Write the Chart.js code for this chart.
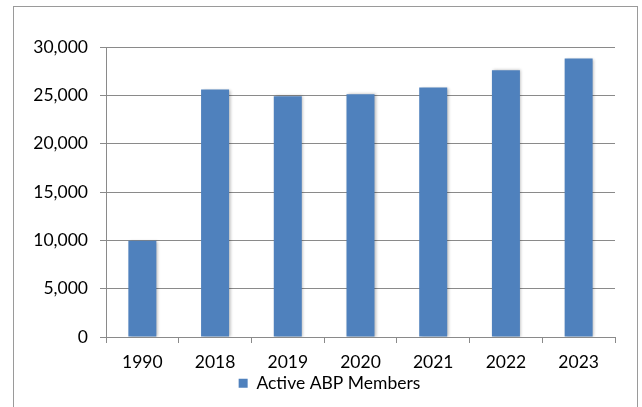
<!DOCTYPE html>
<html>
<head>
<meta charset="utf-8">
<script src="https://cdn.jsdelivr.net/npm/chart.js@4"></script>
<style>
  html, body { margin: 0; padding: 0; background: #fff; overflow: hidden; }
  #wrap { position: relative; width: 642px; height: 407px; }
  #frame {
    position: absolute; left: 13px; top: 6px; width: 625px; height: 420px;
    border: 1px solid #9a9a9a; box-sizing: border-box;
  }
  canvas { position: absolute; left: 0; top: 0; }
</style>
</head>
<body>
<div id="wrap">
  <div id="frame"></div>
  <canvas id="chart" width="642" height="407"></canvas>
</div>
<script>
const years = ['1990', '2018', '2019', '2020', '2021', '2022', '2023'];
const members = [9950, 25600, 24900, 25100, 25800, 27600, 28800];
const seriesName = 'Active ABP Members';
const yTicks = [0, 5000, 10000, 15000, 20000, 25000, 30000];

const barBlue = '#4f81bd';
const gridGray = '#8a8a8a';

// soft shadow round the bars, as in the spreadsheet chart
const barShadow = {
    id: 'barShadow',
    beforeDatasetsDraw(chart) {
        const ctx = chart.ctx;
        ctx.save();
        ctx.shadowColor = 'rgba(0,0,0,0.28)';
        ctx.shadowBlur = 3;
        ctx.shadowOffsetX = 1.5;
        ctx.shadowOffsetY = 0;
    },
    afterDatasetsDraw(chart) {
        chart.ctx.restore();
    }
};

// legend sits a little right of the canvas centre in the original
const legendShift = {
    id: 'legendShift',
    afterLayout(chart) {
        chart.legend.left += 12;
        chart.legend.right += 12;
    }
};

const ctx = document.getElementById('chart').getContext('2d');
const chart = new Chart(ctx, {
    type: 'bar',
    data: {
        labels: years,
        datasets: [{
            label: seriesName,
            data: members,
            backgroundColor: barBlue,
            borderWidth: 0,
            categoryPercentage: 1,
            barPercentage: 0.385
        }]
    },
    options: {
        responsive: false,
        animation: false,
        events: [],
        layout: { padding: { left: 20, right: 27, top: 47, bottom: 5 } },
        font: { family: 'Lato', size: 17.5 },
        color: '#000',
        scales: {
            x: {
                afterFit(scale) { scale.height = 35.5; },
                grid: { display: true, drawOnChartArea: false, drawTicks: true, tickLength: 6, color: gridGray, offset: true },
                border: { display: true, color: gridGray },
                ticks: { color: '#000', font: { family: 'Lato', size: 17.5 }, padding: 9, maxRotation: 0 }
            },
            y: {
                min: 0,
                max: 30000,
                afterFit(scale) { scale.width = 86; },
                afterBuildTicks(scale) { scale.ticks = yTicks.map(v => ({ value: v })); },
                grid: { color: gridGray, tickLength: 6 },
                border: { display: true, color: gridGray },
                ticks: {
                    color: '#000',
                    font: { family: 'Lato', size: 17.5 },
                    padding: 12,
                    callback: v => v.toLocaleString('en-US')
                }
            }
        },
        plugins: {
            legend: {
                position: 'bottom',
                labels: {
                    color: '#000',
                    font: { family: 'Lato', size: 17.5 },
                    boxWidth: 9,
                    boxHeight: 9,
                    padding: 2
                }
            },
            tooltip: { enabled: false }
        }
    },
    plugins: [barShadow, legendShift]
});
</script>
</body>
</html>
